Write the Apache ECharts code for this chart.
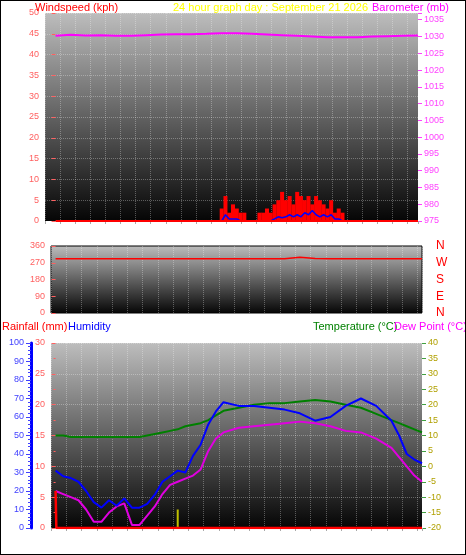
<!DOCTYPE html><html><head><meta charset="utf-8">
<script src="https://cdn.jsdelivr.net/npm/echarts@6/dist/echarts.min.js"></script>
<style>html,body{margin:0;padding:0;background:#fff}#c{width:466px;height:555px;box-sizing:border-box;border:1px solid #000}</style>
</head><body><div id="c"></div><script>
const hours = [0,1,2,3,4,5,6,7,8,9,10,11,12,13,14,15,16,17,18,19,20,21,22,23,24];
const barometer = [1030.2,1030.5,1030.3,1030.4,1030.2,1030.2,1030.4,1030.6,1030.7,1030.7,1030.8,1031.0,1031.0,1030.8,1030.6,1030.4,1030.2,1030.0,1029.8,1029.8,1029.8,1030.0,1030.1,1030.2,1030.3];
const windDir = [292,292,292,292,292,292,292,292,292,292,292,292,292,292,292,292,300,293,292,292,292,292,292,292,292];
const gustHours = [11,11.25,11.5,11.75,12,12.25,12.5,12.75,13,13.25,13.5,13.75,14,14.25,14.5,14.75,15,15.25,15.5,15.75,16,16.25,16.5,16.75,17,17.25,17.5,17.75,18,18.25,18.5,18.75,19];
const gusts = [3,6,2,4,3,2,2,0,0,0,2,2,3,2,4,5,7,5,6,4,7,6,5,6,4,6,5,4,3,5,2,3,2];
const avgWind = [0,1.5,0.5,0.5,0.5,0,0,0,0,0,0,0,0,0,0.5,1,0.8,1,1.5,1,1.5,1,2,1.5,2.5,1.5,1,1.5,1,1.5,0.5,0.5,0];
const humHours = [0,0.5,1,1.5,2,2.5,3,3.5,4,4.5,5,5.5,6,6.5,7,7.5,8,8.5,9,9.5,10,10.5,11,12,13,14,15,16,17,18,19,20,21,22,22.5,23,23.5,24];
const humidity = [31,28,27,25,20,14,11,15,12,16,11,11,13,18,25,28,31,30,39,45,56,63,68,66,66,65,64,62,58,60,66,70,66,58,50,40,37,35];
const temperature = [10,10,9.5,9.5,9.5,9.5,9.5,9.5,9.5,9.5,9.5,9.5,10,10.5,11,11.5,12,13,13.5,14,15,16.5,18,19,20,20.5,20.5,21,21.5,21,20,19,17,15,14,13,12,11];
const dewPoint = [-8,-9,-10,-11,-14,-18,-18,-15,-13,-12,-19,-19,-16,-13,-9,-6,-5,-4,-3,-1,5,9,11,12.5,13,13.5,14,14.5,14,13,11.5,11,9,6,3,0,-3,-5];
const rainHours = [0,0.05,24];
const rainfall = [6,0,0];
const rainRateHours = [8];
const rainRate = [3];

const bg = {type:'linear',x:0,y:0,x2:0,y2:1,colorStops:[{offset:0,color:'#bdbdbd'},{offset:1,color:'#050505'}]};
const FF='Liberation Sans';
function xAx(i,labels,min){return {type:'value',gridIndex:i,min:min,max:24,interval:1,
  axisLine:{show:false},axisTick:{show:labels,length:3,lineStyle:{color:'#aaa'}},splitLine:{show:true,lineStyle:{color:'rgba(255,255,255,0.3)',type:'dotted'}},
  axisLabel:{show:labels,color:'#2020ff',fontSize:10,fontFamily:FF,margin:8,
   formatter:v=>{const h=Math.round(v);return (Math.abs(v-h)<1e-6&&h%2===1)?(h<10?'0'+h:''+h):'';}}};}
function ttl(text,left,top,color){return {text,left,top,padding:0,textStyle:{color,fontSize:11,fontWeight:'normal',fontFamily:FF}};}
const opt = {
 animation:false,
 textStyle:{fontFamily:FF},
 title:[
  ttl('Windspeed (kph)',34,1,'#ff0000'),
  ttl('24 hour graph day : September 21 2026',172,1,'#ffff00'),
  ttl('Barometer (mb)',371,1,'#ff00ff'),
  ttl('Rainfall (mm)',1,320,'#ff0000'),
  ttl('Humidity',67,320,'#0000ff'),
  ttl('Temperature (°C)',312,320,'#008000'),
  ttl('Dew Point (°C)',393,320,'#ff00ff')
 ],
 grid:[
  {left:44,top:12,width:373,height:208,show:true,backgroundColor:bg,borderWidth:0},
  {left:50,top:245,width:371,height:67,show:true,backgroundColor:bg,borderColor:'#000',borderWidth:1},
  {left:50,top:342,width:371,height:185,show:true,backgroundColor:bg,borderWidth:0}
 ],
 xAxis:[xAx(0,true,-0.7),xAx(1,false,-0.3),xAx(2,true,-0.3)],
 yAxis:[
  {type:'value',gridIndex:0,min:0,max:50,interval:5,axisLine:{show:false},axisTick:{show:true,length:4,lineStyle:{color:'#ff6060'}},
   axisLabel:{color:'#ff6060',fontSize:9,margin:6},splitLine:{show:true,lineStyle:{color:'rgba(255,255,255,0.3)',type:'dotted'}}},
  {type:'value',gridIndex:0,position:'right',min:975,max:1037,interval:5,axisLine:{show:false},axisTick:{show:true,length:4,lineStyle:{color:'#ff40ff'}},
   axisLabel:{color:'#ff40ff',fontSize:9,margin:6,formatter:v=>v>1035?'':v},splitLine:{show:false}},
  {type:'value',gridIndex:1,min:0,max:360,interval:90,axisLine:{show:false},axisTick:{show:true,length:4,lineStyle:{color:'#ff6060'}},
   axisLabel:{color:'#ff6060',fontSize:9,margin:6},splitLine:{show:false}},
  {type:'value',gridIndex:1,position:'right',min:0,max:360,interval:90,axisLine:{show:false},axisTick:{show:false},
   axisLabel:{color:'#ff0000',fontSize:12,margin:14,formatter:v=>({0:'N',90:'E',180:'S',270:'W',360:'N'})[v]},splitLine:{show:false}},
  {type:'value',gridIndex:2,min:0,max:30,interval:5,axisLine:{show:false},axisTick:{show:true,length:4,lineStyle:{color:'#ff6060'}},
   minorTick:{show:true,splitNumber:2,length:2,lineStyle:{color:'#ff6060'}},
   axisLabel:{color:'#ff6060',fontSize:9,margin:6},splitLine:{show:true,lineStyle:{color:'rgba(255,255,255,0.3)',type:'dotted'}}},
  {type:'value',gridIndex:2,position:'left',offset:20,min:0,max:100,interval:10,axisLine:{show:true,lineStyle:{color:'#0000ff',width:3}},axisTick:{show:true,length:5,lineStyle:{color:'#4040ff'}},minorTick:{show:true,splitNumber:5,length:3,lineStyle:{color:'#4040ff'}},
   axisLabel:{color:'#4040ff',fontSize:9,margin:7},splitLine:{show:false}},
  {type:'value',gridIndex:2,position:'right',min:-20,max:40,interval:5,axisLine:{show:false},axisTick:{show:true,length:4,lineStyle:{color:'#40a040'}},
   axisLabel:{color:'#b0a000',fontSize:9,margin:6},splitLine:{show:false}}
 ],
 series:[
  {type:'bar',xAxisIndex:0,yAxisIndex:0,data:gustHours.map((h,i)=>[h,gusts[i]]),barWidth:4,itemStyle:{color:'#ff0000'}},
  {type:'line',xAxisIndex:0,yAxisIndex:0,data:gustHours.map((h,i)=>[h,avgWind[i]]),showSymbol:false,lineStyle:{color:'#0000ff',width:1.5}},
  {type:'line',xAxisIndex:0,yAxisIndex:0,data:[[0,0],[24,0]],showSymbol:false,lineStyle:{color:'#ff0000',width:2}},
  {type:'line',xAxisIndex:0,yAxisIndex:1,data:hours.map((h,i)=>[h,barometer[i]]),showSymbol:false,lineStyle:{color:'#ff00ff',width:2}},
  {type:'line',xAxisIndex:1,yAxisIndex:2,data:hours.map((h,i)=>[h,windDir[i]]),showSymbol:false,lineStyle:{color:'#ff0000',width:1.5}},
  {type:'line',xAxisIndex:2,yAxisIndex:6,data:humHours.map((h,i)=>[h,temperature[i]]),showSymbol:false,lineStyle:{color:'#008000',width:2}},
  {type:'line',xAxisIndex:2,yAxisIndex:6,data:humHours.map((h,i)=>[h,dewPoint[i]]),showSymbol:false,lineStyle:{color:'#e000e0',width:2}},
  {type:'line',xAxisIndex:2,yAxisIndex:5,data:humHours.map((h,i)=>[h,humidity[i]]),showSymbol:false,lineStyle:{color:'#0000ff',width:2}},
  {type:'bar',xAxisIndex:2,yAxisIndex:4,data:rainRateHours.map((h,i)=>[h,rainRate[i]]),barWidth:2,itemStyle:{color:'#c0c000'}},
  {type:'line',xAxisIndex:2,yAxisIndex:4,data:rainHours.map((h,i)=>[h,rainfall[i]]),step:'end',showSymbol:false,lineStyle:{color:'#ff0000',width:2.5}}
 ]
};
echarts.init(document.getElementById('c')).setOption(opt);
</script></body></html>
